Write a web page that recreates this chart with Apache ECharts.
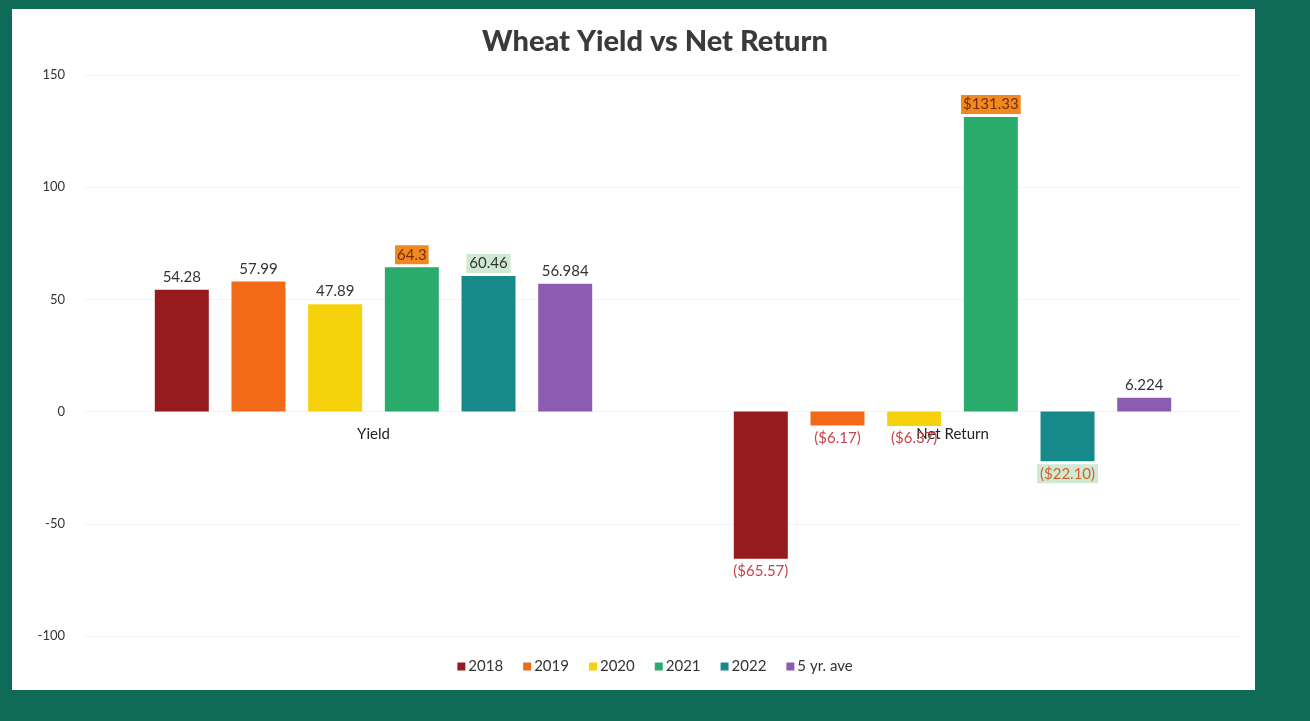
<!DOCTYPE html>
<html>
<head>
<meta charset="utf-8">
<script src="https://cdn.jsdelivr.net/npm/echarts@6/dist/echarts.min.js"></script>
<style>
html,body{margin:0;padding:0;background:#0f6b58;}
#chart{width:1310px;height:721px;}
</style>
</head>
<body>
<div id="chart"></div>
<script>
const categories = ['Yield', 'Net Return'];
const seriesNames = ['2018', '2019', '2020', '2021', '2022', '5 yr. ave'];
const yield_ = [54.28, 57.99, 47.89, 64.3, 60.46, 56.984];
const netReturn = [-65.57, -6.17, -6.37, 131.33, -22.10, 6.224];
const yTicks = [-100, -50, 0, 50, 100, 150];
const yMin = -100, yMax = 150;

const colors = ['#961b1f', '#f26a18', '#f6d20c', '#29ab6b', '#17898a', '#8c5cb2'];

function money(v) {
  const s = '$' + Math.abs(v).toFixed(2);
  return v < 0 ? '(' + s + ')' : s;
}

const series = seriesNames.map((name, i) => {
  const vals = [yield_[i], netReturn[i]];
  return {
    name: name,
    type: 'bar',
    barWidth: 54,
    barGap: '42%',
    itemStyle: { color: colors[i] },
    data: vals.map((v, j) => {
      const neg = v < 0;
      const lab = {
        show: true,
        position: neg ? 'bottom' : 'top',
        distance: 5,
        fontFamily: 'Lato, sans-serif',
        fontSize: 15,
        color: neg ? '#c9434d' : '#333333',
        formatter: () => (j === 1 && i < 5) ? money(v) : String(v)
      };
      if (i === 3) {
        lab.backgroundColor = '#f08a1e';
        lab.color = '#7a2c12';
        lab.padding = [2, 2];
        lab.distance = 3;
      }
      if (i === 4) {
        lab.backgroundColor = '#cfe9d2';
        lab.padding = [2, 3];
        lab.distance = 3;
        if (neg) lab.color = '#d2612e';
      }
      return { value: v, label: lab };
    })
  };
});

const gridTop = 75, gridBottom = 85, H = 721;
const plotH = H - gridTop - gridBottom;
const zeroOffset = -plotH * (0 - yMin) / (yMax - yMin);

const chart = echarts.init(document.getElementById('chart'));
chart.setOption({
  backgroundColor: '#0f6b58',
  animation: false,
  graphic: [{
    type: 'rect',
    z: -10,
    shape: { x: 12, y: 9, width: 1243, height: 681 },
    style: { fill: '#ffffff' }
  }],
  title: {
    text: 'Wheat Yield vs Net Return',
    left: 'center',
    top: 22,
    textStyle: { fontFamily: 'Lato, sans-serif', fontWeight: 900, fontSize: 29, color: '#3a3a3a' }
  },
  legend: {
    bottom: 42,
    left: 'center',
    itemWidth: 8,
    itemHeight: 8,
    itemGap: 20,
    icon: 'rect',
    textStyle: { fontFamily: 'Lato, sans-serif', fontSize: 15, color: '#333', padding: [0, 0, 0, -2] },
    data: seriesNames
  },
  grid: { left: 84, right: 68, top: gridTop, bottom: gridBottom, containLabel: false },
  xAxis: {
    type: 'category',
    data: categories,
    offset: zeroOffset,
    axisLine: { show: false, onZero: false },
    axisTick: { show: false },
    axisLabel: { fontFamily: 'Lato, sans-serif', fontSize: 15, color: '#222', margin: 15 }
  },
  yAxis: {
    type: 'value',
    min: yMin,
    max: yMax,
    interval: 50,
    axisLine: { show: false },
    axisTick: { show: false },
    splitLine: { lineStyle: { color: '#f4f4f4' } },
    axisLabel: {
      fontFamily: 'Lato, sans-serif', fontSize: 13, color: '#333', margin: 19,
      formatter: v => yTicks.includes(v) ? String(v) : ''
    }
  },
  series: series
});
</script>
</body>
</html>
